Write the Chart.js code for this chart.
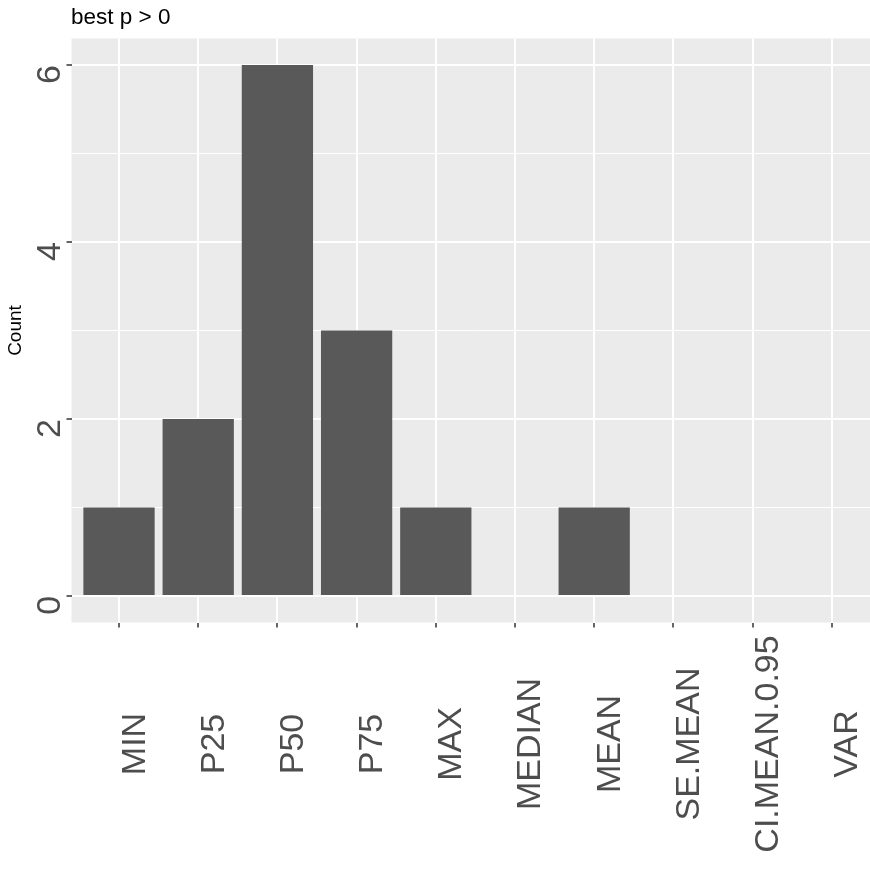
<!DOCTYPE html>
<html>
<head>
<meta charset="utf-8">
<script src="https://cdn.jsdelivr.net/npm/chart.js@4"></script>
<style>
  html, body { margin: 0; padding: 0; background: #fff; overflow: hidden; }
  canvas { display: block; }
</style>
</head>
<body>
<canvas id="c" width="880" height="880"></canvas>
<script>
// data
const CATEGORIES = ['MIN', 'P25', 'P50', 'P75', 'MAX', 'MEDIAN', 'MEAN', 'SE.MEAN', 'CI.MEAN.0.95', 'VAR'];
const COUNTS = [1, 2, 6, 3, 1, 0, 1, 0, 0, 0];
const Y_TICKS = [0, 1, 2, 3, 4, 5, 6];
const Y_LABELS = [0, 2, 4, 6];
const TITLE = 'best p > 0';
const Y_TITLE = 'Count';

const FONT = '"Liberation Sans", Arial, sans-serif';

// ggplot-ish panel + hand drawn rotated labels
const ggPanel = {
  id: 'ggPanel',
  beforeDraw(chart) {
    const { ctx, chartArea: a } = chart;
    ctx.save();
    ctx.fillStyle = '#ebebeb';
    ctx.fillRect(a.left, a.top, a.right - a.left, a.bottom - a.top);
    ctx.restore();
  },
  afterDraw(chart) {
    const { ctx, chartArea: a } = chart;
    const xs = chart.scales.x, ys = chart.scales.y;
    ctx.save();

    // title
    ctx.fillStyle = '#000';
    ctx.font = '22.5px ' + FONT;
    ctx.textAlign = 'left';
    ctx.textBaseline = 'alphabetic';
    ctx.fillText(TITLE, 71, 24);

    // y axis title
    ctx.save();
    ctx.translate(21, (a.top + a.bottom) / 2);
    ctx.rotate(-Math.PI / 2);
    ctx.textAlign = 'center';
    ctx.font = '19px ' + FONT;
    ctx.fillText(Y_TITLE, 0, 0);
    ctx.restore();

    // y tick labels
    ctx.fillStyle = '#4d4d4d';
    ctx.font = '34px ' + FONT;
    Y_LABELS.forEach(v => {
      ctx.save();
      ctx.translate(59.5, ys.getPixelForValue(v));
      ctx.rotate(-Math.PI / 2);
      ctx.textAlign = 'right';
      ctx.fillText(String(v), 0, 0);
      ctx.restore();
    });

    // x tick labels
    CATEGORIES.forEach((c, i) => {
      ctx.save();
      ctx.translate(xs.getPixelForValue(i) + 25.5, 744);
      ctx.rotate(-Math.PI / 2);
      ctx.textAlign = 'center';
      ctx.fillText(c, 0, 0);
      ctx.restore();
    });

    ctx.restore();
  }
};

new Chart(document.getElementById('c'), {
  type: 'bar',
  data: {
    datasets: [{
      data: COUNTS.map((v, i) => ({ x: i, y: v })),
      backgroundColor: '#595959',
      borderWidth: 0,
      barPercentage: 0.9,
      categoryPercentage: 1
    }]
  },
  plugins: [ggPanel],
  options: {
    responsive: false,
    devicePixelRatio: 1,
    animation: false,
    layout: { padding: { top: 38.5, left: 0, right: 0.7, bottom: 0 } },
    plugins: { legend: { display: false }, tooltip: { enabled: false }, title: { display: false } },
    scales: {
      x: {
        type: 'linear',
        min: -0.6,
        max: 9.6,
        offset: false,
        afterBuildTicks: s => { s.ticks = CATEGORIES.map((c, i) => ({ value: i })); },
        afterFit: s => { s.height = 257.5; },
        ticks: { display: false },
        border: { display: false },
        grid: {
          offset: false,
          color: '#ffffff',
          lineWidth: 2,
          drawTicks: true,
          tickLength: 5,
          tickColor: '#333333',
          tickWidth: 1.5
        }
      },
      y: {
        type: 'linear',
        min: -0.3,
        max: 6.3,
        afterBuildTicks: s => { s.ticks = Y_TICKS.map(v => ({ value: v })); },
        afterFit: s => { s.width = 71.5; },
        ticks: { display: false },
        border: { display: false },
        grid: {
          color: '#ffffff',
          lineWidth: c => (c.tick && c.tick.value % 2 === 0 ? 2 : 1),
          drawTicks: true,
          tickLength: 5,
          tickColor: c => (c.tick && c.tick.value % 2 === 0 ? '#333333' : 'rgba(0,0,0,0)'),
          tickWidth: 1.5
        }
      }
    }
  }
});
</script>
</body>
</html>
